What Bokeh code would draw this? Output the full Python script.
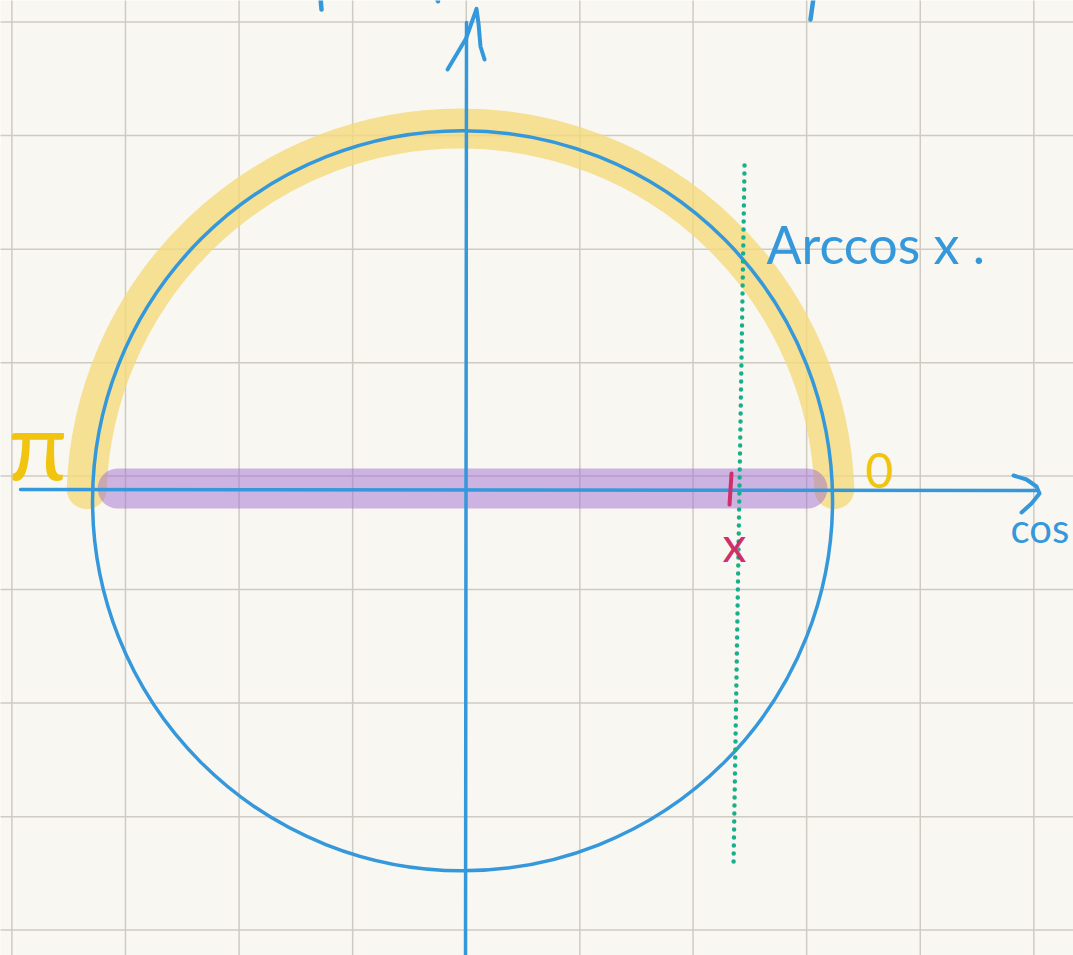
from bokeh.plotting import figure
from bokeh.models import Range1d, ColumnDataSource
from bokeh.core.properties import value
from bokeh.embed import file_html
from bokeh.resources import INLINE

# ---- sketch content, in unit-circle coordinates (axes cross at 0,0) ----
paper_grid_x = [-1.226, -0.919, -0.612, -0.305, 0.002, 0.309, 0.615, 0.922, 1.229, 1.536]
paper_grid_y = [1.265, 0.958, 0.651, 0.344, 0.038, -0.269, -0.576, -0.883, -1.189]

circle_center = (-0.008, -0.029)
circle_radius = 1.0

# yellow highlighted arc [0, pi]
arc_center = (-0.0135, -0.034)
arc_radius = 1.011
arc_angles = (0.036, 3.1056)

# purple interval [-1, 1] on the cos axis
interval_x = [-0.940, 0.924]
interval_y = [0.004, 0.004]

# axes
cos_axis_x = [-1.2027, 1.5432]
cos_axis_y = [0.0014, -0.0014]
cos_arrow_x = [1.4811, 1.5162, 1.5432, 1.5514, 1.5297, 1.5027]
cos_arrow_y = [0.0392, 0.0284, 0.0095, -0.0095, -0.0365, -0.0608]
sin_axis_x = [0.0, 0.0027]
sin_axis_y = [-1.2700, 1.2635]
sin_arrow_x = [-0.0486, 0.0014, 0.0297, 0.0351, 0.0405, 0.0514]
sin_arrow_y = [1.1365, 1.2203, 1.3003, 1.2608, 1.1986, 1.1635]

# dotted vertical line through x
dotted_x = [0.7541, 0.7243]
dotted_y = [0.8770, -1.0176]

# tick mark at x
tick_x = [0.7189, 0.7135]
tick_y = [0.0446, -0.0392]

# cut-off strokes at the top edge
top_marks_x0 = [-0.3919, -0.0770, 0.9405]
top_marks_y0 = [1.3300, 1.3300, 1.3300]
top_marks_x1 = [-0.3892, -0.0745, 0.9324]
top_marks_y1 = [1.2986, 1.3210, 1.2716]

# labels
label_text = ["Arccos x .", "cos", "π", "0", "x"]
label_x = [0.8135, 1.4730, -1.2350, 1.0811, 0.6946]
label_y = [0.6660, -0.1030, 0.1280, 0.0527, -0.1446]
label_color = ["#3498db", "#3498db", "#f1c40f", "#f1c40f", "#d0306a"]
label_size = ["52px", "40px", "95px", "48px", "48px"]

BLUE = "#3498db"
PAPER = "#f9f7f2"

p = figure(width=1073, height=955, output_backend="svg", toolbar_location=None,
           x_range=Range1d(-1.2568, 1.6432), y_range=Range1d(-1.2581, 1.3230),
           x_axis_location=None, y_axis_location=None, min_border=0,
           background_fill_color=PAPER, border_fill_color=PAPER,
           outline_line_color=None)
p.xgrid.visible = False
p.ygrid.visible = False

# paper grid
p.segment(x0=paper_grid_x, y0=[-2] * len(paper_grid_x), x1=paper_grid_x, y1=[2] * len(paper_grid_x),
          line_color="#cfcac2", line_width=1.5)
p.segment(x0=[-2] * len(paper_grid_y), y0=paper_grid_y, x1=[2] * len(paper_grid_y), y1=paper_grid_y,
          line_color="#cfcac2", line_width=1.5)

# yellow highlight
p.arc(x=[arc_center[0]], y=[arc_center[1]], radius=arc_radius,
      start_angle=arc_angles[0], end_angle=arc_angles[1],
      line_color="#f4da7a", line_alpha=0.8, line_width=40, line_cap="round")

# purple interval
p.line(interval_x, interval_y, line_color="#9f70d0", line_alpha=0.5, line_width=40, line_cap="round")

# axes
p.line(cos_axis_x, cos_axis_y, line_color=BLUE, line_width=3.5, line_cap="round")
p.line(cos_arrow_x, cos_arrow_y, line_color=BLUE, line_width=4, line_cap="round", line_join="round")
p.line(sin_axis_x, sin_axis_y, line_color=BLUE, line_width=3.5, line_cap="round")
p.line(sin_arrow_x, sin_arrow_y, line_color=BLUE, line_width=4, line_cap="round", line_join="round")

# unit circle
p.circle(x=[circle_center[0]], y=[circle_center[1]], radius=circle_radius,
         fill_color=None, line_color=BLUE, line_width=3.5)

# dotted line
p.line(dotted_x, dotted_y, line_color="#1aaf8b", line_width=4.5, line_dash="0 8", line_cap="round")

# tick
p.line(tick_x, tick_y, line_color="#d0306a", line_width=4, line_cap="round")

# top cut strokes
p.segment(x0=top_marks_x0, y0=top_marks_y0, x1=top_marks_x1, y1=top_marks_y1,
          line_color=BLUE, line_width=4.5, line_cap="round")

src = ColumnDataSource(dict(x=label_x, y=label_y, text=label_text, color=label_color, size=label_size))
p.text(x="x", y="y", text="text", text_color="color", text_font_size="size", source=src,
       text_font=value("Lato"), text_align="left", text_baseline="alphabetic")

open("out.html", "w").write(file_html(p, INLINE))
